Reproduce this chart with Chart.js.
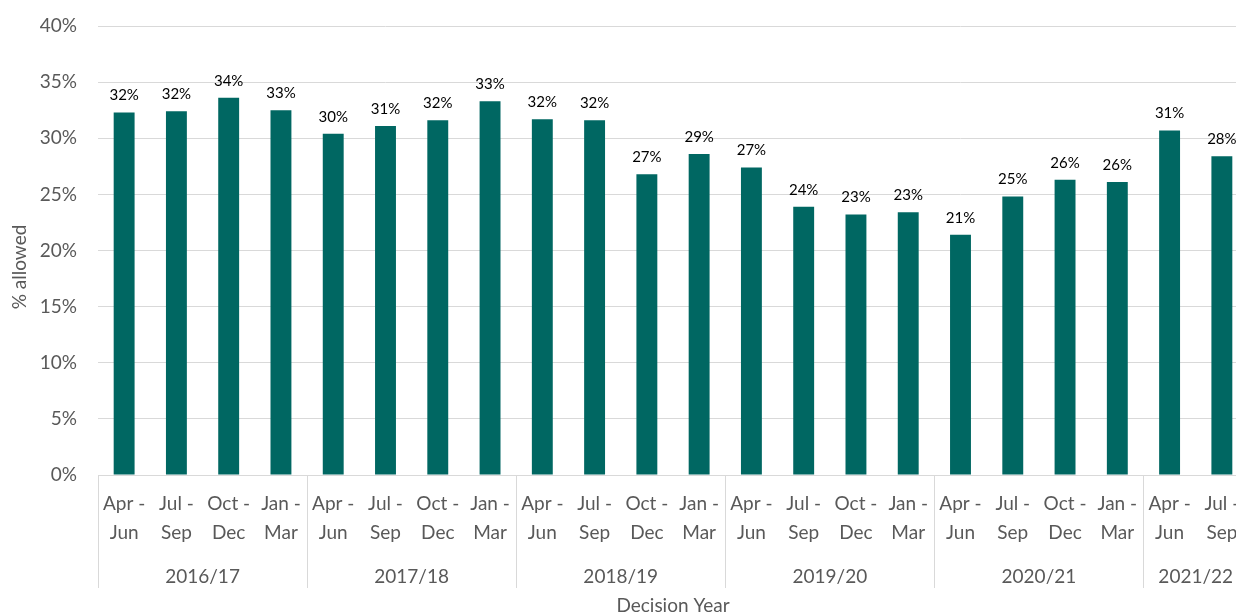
<!DOCTYPE html>
<html>
<head>
<meta charset="utf-8">
<script src="https://cdn.jsdelivr.net/npm/chart.js@4/dist/chart.umd.min.js"></script>
<style>
  html, body { margin: 0; padding: 0; background: #fff; overflow: hidden; }
  #wrap { position: relative; width: 1248px; height: 612px; }
</style>
</head>
<body>
<div id="wrap"><canvas id="appealsChart"></canvas></div>
<script>
  // quarters within each decision year
  const quarters = [
    ['Apr -', 'Jun'], ['Jul -', 'Sep'], ['Oct -', 'Dec'], ['Jan -', 'Mar'],
    ['Apr -', 'Jun'], ['Jul -', 'Sep'], ['Oct -', 'Dec'], ['Jan -', 'Mar'],
    ['Apr -', 'Jun'], ['Jul -', 'Sep'], ['Oct -', 'Dec'], ['Jan -', 'Mar'],
    ['Apr -', 'Jun'], ['Jul -', 'Sep'], ['Oct -', 'Dec'], ['Jan -', 'Mar'],
    ['Apr -', 'Jun'], ['Jul -', 'Sep'], ['Oct -', 'Dec'], ['Jan -', 'Mar'],
    ['Apr -', 'Jun'], ['Jul -', 'Sep']
  ];
  const decisionYears = ['2016/17', '2017/18', '2018/19', '2019/20', '2020/21', '2021/22'];
  const quartersPerYear = [4, 4, 4, 4, 4, 2];

  // % of appeals allowed
  const pctAllowed = [
    32.3, 32.4, 33.6, 32.5,
    30.4, 31.1, 31.6, 33.3,
    31.7, 31.6, 26.8, 28.6,
    27.4, 23.9, 23.2, 23.4,
    21.4, 24.8, 26.3, 26.1,
    30.7, 28.4
  ];

  const yTicks = [0, 5, 10, 15, 20, 25, 30, 35, 40];

  const FONT = "Lato, 'Open Sans', sans-serif";
  const GREY_TXT = '#595959';
  const GRID = '#d9d9d9';

  // draws data labels, year groups, separators and axis titles
  const extrasPlugin = {
    id: 'extras',
    afterDraw(chart) {
      const ctx = chart.ctx;
      const x = chart.scales.x;
      const area = chart.chartArea;
      const meta = chart.getDatasetMeta(0);

      ctx.save();
      // value labels
      ctx.fillStyle = '#000';
      ctx.font = "15px " + FONT;
      ctx.textAlign = 'center';
      ctx.textBaseline = 'middle';
      meta.data.forEach(function(bar, i) {
        ctx.fillText(Math.round(pctAllowed[i]) + '%', bar.x, bar.y - 17);
      });

      // year groups
      const half = (x.getPixelForValue(1) - x.getPixelForValue(0)) / 2;
      ctx.strokeStyle = GRID;
      ctx.lineWidth = 1;
      ctx.font = "19px " + FONT;
      ctx.fillStyle = GREY_TXT;
      let start = 0;
      decisionYears.forEach(function(yr, g) {
        const n = quartersPerYear[g];
        const left = x.getPixelForValue(start) - half;
        const right = x.getPixelForValue(start + n - 1) + half;
        ctx.beginPath();
        ctx.moveTo(Math.round(left) + 0.5, area.bottom);
        ctx.lineTo(Math.round(left) + 0.5, 588);
        ctx.stroke();
        ctx.fillText(yr, (left + right) / 2, 577);
        start += n;
      });

      // axis titles
      ctx.fillText('Decision Year', (area.left + area.right) / 2, 606);
      ctx.translate(20, 267);
      ctx.rotate(-Math.PI / 2);
      ctx.fillText('% allowed', 0, 0);
      ctx.restore();
    }
  };

  new Chart(document.getElementById('appealsChart'), {
    type: 'bar',
    data: {
      labels: quarters,
      datasets: [{
        label: '% allowed',
        data: pctAllowed,
        backgroundColor: '#006762',
        borderWidth: 0,
        barPercentage: 0.8,
        categoryPercentage: 0.5
      }]
    },
    options: {
      responsive: true,
      maintainAspectRatio: false,
      animation: false,
      layout: { padding: { top: 26, left: 0, right: 0, bottom: 0 } },
      plugins: { legend: { display: false }, tooltip: { enabled: false } },
      scales: {
        x: {
          grid: { display: false },
          border: { display: true, color: GRID, width: 1 },
          ticks: {
            color: GREY_TXT,
            font: { family: FONT, size: 19, lineHeight: 29 / 19 },
            padding: 6.5,
            maxRotation: 0,
            autoSkip: false
          },
          afterFit: function(s) { s.height = 137; }
        },
        y: {
          min: 0,
          max: 40,
          afterBuildTicks: function(s) { s.ticks = yTicks.map(function(v) { return { value: v }; }); },
          grid: { color: GRID, drawTicks: false },
          border: { display: false },
          ticks: {
            color: GREY_TXT,
            font: { family: FONT, size: 19 },
            padding: 21,
            callback: function(v) { return v + '%'; }
          },
          afterFit: function(s) {
            s.width = 98;
            s.paddingTop = 0;
            s.paddingBottom = 0;
          }
        }
      }
    },
    plugins: [extrasPlugin]
  });
</script>
</body>
</html>
